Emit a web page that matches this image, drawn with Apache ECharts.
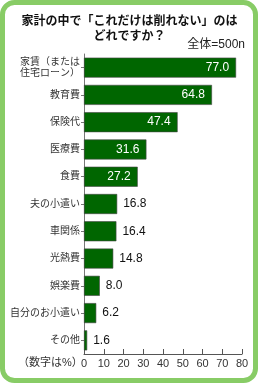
<!DOCTYPE html>
<html><head><meta charset="utf-8">
<script src="https://cdn.jsdelivr.net/npm/echarts@6/dist/echarts.min.js"></script>
<style>html,body{margin:0;padding:0;background:#fff;}#c{width:259px;height:385px;}</style>
</head><body><div id="c"></div>
<script>
const categories = ['家賃（または\n住宅ローン）','教育費','保険代','医療費','食費','夫の小遣い','車関係','光熱費','娯楽費','自分のお小遣い','その他'];
const values = [77.0,64.8,47.4,31.6,27.2,16.8,16.4,14.8,8.0,6.2,1.6];
const xTicks = [0,10,20,30,40,50,60,70,80];
const insideThreshold = 20;
const FONT = '"Liberation Sans", "Noto Sans CJK JP", sans-serif';
const chart = echarts.init(document.getElementById('c'), null, {renderer:'canvas'});
chart.setOption({
  animation:false,
  backgroundColor:'#fff',
  textStyle:{fontFamily:FONT},
  graphic:[
    {type:'rect', shape:{x:2.5,y:2.5,width:253,height:378,r:12}, style:{fill:'none',stroke:'#88cc66',lineWidth:5}, silent:true},
    {type:'text', left:'center', top:14, style:{text:'家計の中で「これだけは削れない」のは\nどれですか？', font:'bold 12px '+FONT, fill:'#111', textAlign:'center', lineHeight:15}},
    {type:'text', right:14, top:39, style:{text:'全体=500n', font:'12px '+FONT, fill:'#222'}},
    {type:'text', left:18, top:357, style:{text:'（数字は%）', font:'11px '+FONT, fill:'#333'}}
  ],
  grid:{left:84, right:17, top:54, bottom:31, containLabel:false},
  xAxis:{type:'value', min:0, max:80, interval:10,
    axisLine:{show:true, lineStyle:{color:'#555'}},
    axisTick:{show:true, inside:true, length:5, lineStyle:{color:'#555'}},
    splitLine:{show:false},
    axisLabel:{color:'#333', fontSize:11, margin:4, formatter:v=>xTicks.includes(v)?String(v):''}},
  yAxis:{type:'category', data:categories, inverse:true,
    axisLine:{show:true, lineStyle:{color:'#777'}},
    axisTick:{show:true, alignWithLabel:true, length:3, lineStyle:{color:'#777'}},
    axisLabel:{color:'#333', fontSize:10, lineHeight:11, margin:4}},
  series:[{type:'bar', barWidth:20,
    data:values.map(v=>({value:v,
      label:v>=insideThreshold?{show:true,position:'insideRight',distance:7,color:'#fff',fontSize:12}:{show:true,position:'right',distance:6,color:'#111',fontSize:12}})),
    itemStyle:{color:'#006600', borderColor:'#444', borderWidth:0.6},
    label:{formatter:p=>p.value.toFixed(1), fontFamily:FONT}
  }]
});
</script></body></html>
